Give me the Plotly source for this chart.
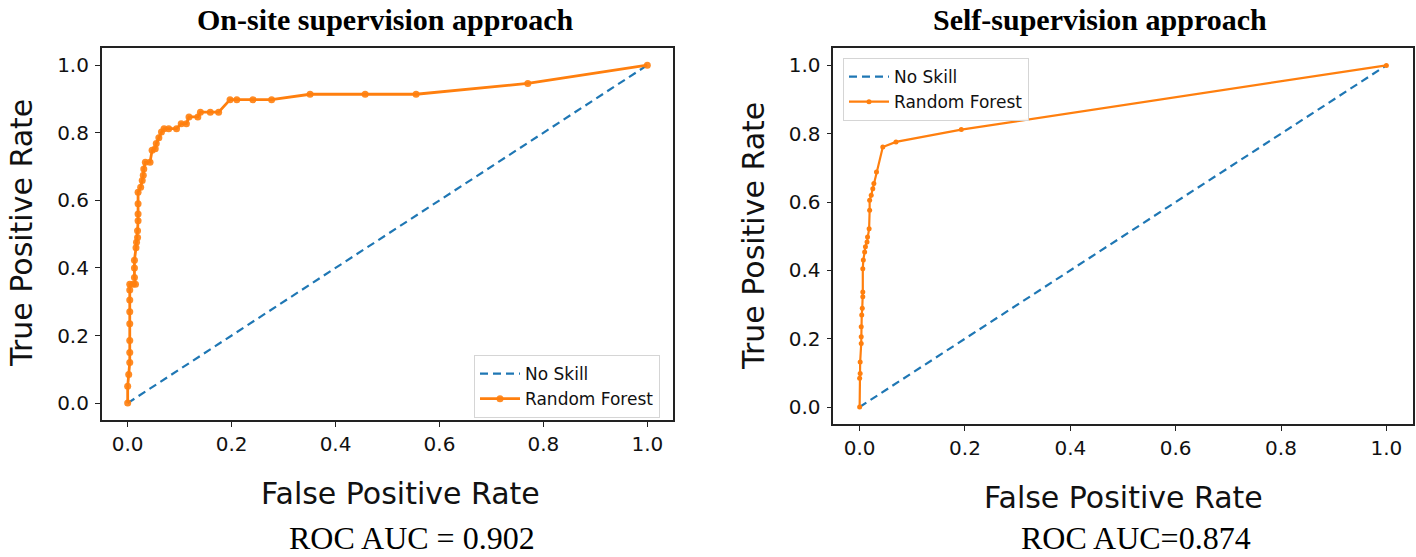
import plotly.graph_objects as go

# ---------------- data ----------------
titles = ["On-site supervision approach", "Self-supervision approach"]
auc_labels = ["ROC AUC = 0.902", "ROC AUC=0.874"]
x_title = "False Positive Rate"
y_title = "True Positive Rate"
tick_vals = [0.0, 0.2, 0.4, 0.6, 0.8, 1.0]
tick_text = ["0.0", "0.2", "0.4", "0.6", "0.8", "1.0"]

noskill_fpr = [0.0, 1.0]
noskill_tpr = [0.0, 1.0]

onsite_fpr = [0.0, 0.0, 0.002, 0.004, 0.004, 0.004, 0.004, 0.004, 0.004, 0.004, 0.004,
              0.010, 0.015, 0.013, 0.013, 0.013, 0.016, 0.017, 0.019, 0.019, 0.020,
              0.020, 0.020, 0.020, 0.025, 0.028, 0.030, 0.031, 0.034, 0.043, 0.047,
              0.053, 0.055, 0.060, 0.065, 0.070, 0.079, 0.094, 0.103, 0.113, 0.118,
              0.135, 0.140, 0.159, 0.175, 0.197, 0.210, 0.241, 0.277, 0.351, 0.457,
              0.555, 0.770, 1.0]
onsite_tpr = [0.0, 0.05, 0.085, 0.12, 0.15, 0.185, 0.235, 0.27, 0.305, 0.335, 0.352,
              0.352, 0.352, 0.372, 0.40, 0.423, 0.46, 0.476, 0.49, 0.51, 0.54,
              0.56, 0.59, 0.624, 0.639, 0.659, 0.674, 0.693, 0.713, 0.713, 0.748,
              0.753, 0.768, 0.785, 0.802, 0.812, 0.812, 0.812, 0.827, 0.827, 0.847,
              0.847, 0.861, 0.861, 0.861, 0.898, 0.898, 0.898, 0.898, 0.914, 0.914,
              0.914, 0.946, 1.0]

self_fpr = [0.0, 0.0, 0.001, 0.001, 0.003, 0.003, 0.003, 0.004, 0.005, 0.006, 0.006,
            0.006, 0.007, 0.0095, 0.011, 0.014, 0.015, 0.018, 0.019, 0.019, 0.022,
            0.025, 0.027, 0.032, 0.044, 0.069, 0.193, 1.0]
self_tpr = [0.0, 0.084, 0.098, 0.132, 0.186, 0.206, 0.235, 0.269, 0.289, 0.323, 0.337,
            0.405, 0.43, 0.454, 0.469, 0.483, 0.498, 0.522, 0.576, 0.605, 0.62,
            0.639, 0.654, 0.688, 0.761, 0.776, 0.812, 1.0]

# ---------------- styling ----------------
W, H = 1416, 557
BLUE = "#1f77b4"
ORANGE = "#ff7f0e"
SANS = "DejaVu Sans"
SERIF = "Liberation Serif"


def px_x(x):
    return x / W


def px_y(y):
    return 1 - y / H


fig = go.Figure()

# left panel
fig.add_trace(go.Scatter(x=noskill_fpr, y=noskill_tpr, mode="lines", name="No Skill",
                         line=dict(color=BLUE, width=2.2, dash="8px,5px"),
                         xaxis="x", yaxis="y", legend="legend"))
fig.add_trace(go.Scatter(x=onsite_fpr, y=onsite_tpr, mode="lines+markers", name="Random Forest",
                         line=dict(color=ORANGE, width=2.8),
                         marker=dict(color=ORANGE, size=7, opacity=0.9),
                         xaxis="x", yaxis="y", legend="legend"))
# right panel
fig.add_trace(go.Scatter(x=noskill_fpr, y=noskill_tpr, mode="lines", name="No Skill",
                         line=dict(color=BLUE, width=2.2, dash="8px,5px"),
                         xaxis="x2", yaxis="y2", legend="legend2"))
fig.add_trace(go.Scatter(x=self_fpr, y=self_tpr, mode="lines+markers", name="Random Forest",
                         line=dict(color=ORANGE, width=2.2),
                         marker=dict(color=ORANGE, size=5),
                         xaxis="x2", yaxis="y2", legend="legend2"))

axis_common = dict(
    range=[-0.05, 1.05], tickvals=tick_vals, ticktext=tick_text,
    showgrid=False, zeroline=False, showline=True, mirror=True,
    linecolor="#222", linewidth=1.5, ticks="outside", ticklen=5, tickwidth=1.3,
    tickcolor="#222", tickfont=dict(family=SANS, size=20, color="#111"),
    automargin=False, fixedrange=True,
)

legend_common = dict(xanchor="left", yanchor="top",
                     bgcolor="rgba(255,255,255,0.9)", bordercolor="#d5d5d5", borderwidth=1,
                     font=dict(family=SANS, size=17, color="#111"), traceorder="normal",
                     itemwidth=40)

fig.update_layout(
    width=W, height=H,
    margin=dict(l=0, r=0, t=0, b=0),
    paper_bgcolor="white", plot_bgcolor="white",
    xaxis=dict(domain=[101.7 / W, 673.3 / W], anchor="y", ticklabelstandoff=0, **axis_common),
    yaxis=dict(domain=[px_y(420), px_y(48.3)], anchor="x", ticklabelstandoff=2, **axis_common),
    xaxis2=dict(domain=[833.3 / W, 1412.7 / W], anchor="y2", ticklabelstandoff=0, **axis_common),
    yaxis2=dict(domain=[px_y(424.1), px_y(48.3)], anchor="x2", ticklabelstandoff=2, **axis_common),
    legend=dict(x=px_x(474), y=px_y(355), **legend_common),
    legend2=dict(x=px_x(843), y=px_y(58), **legend_common),
    showlegend=True,
)

annotations = []
# panel titles
for t, cx in zip(titles, [385, 1100]):
    annotations.append(dict(text="<b>" + t + "</b>", x=px_x(cx), y=px_y(19), xref="paper", yref="paper",
                            xanchor="center", yanchor="middle", showarrow=False,
                            font=dict(family=SERIF, size=30, color="black")))
# axis titles
for cx, cy in [(400, 493), (1123, 497)]:
    annotations.append(dict(text=x_title, x=px_x(cx), y=px_y(cy), xref="paper", yref="paper",
                            xanchor="center", yanchor="middle", showarrow=False,
                            font=dict(family=SANS, size=30, color="#111")))
for cx, cy in [(22, 233), (753, 236)]:
    annotations.append(dict(text=y_title, x=px_x(cx), y=px_y(cy), xref="paper", yref="paper",
                            xanchor="center", yanchor="middle", showarrow=False, textangle=-90,
                            font=dict(family=SANS, size=30, color="#111")))
# AUC labels
for t, cx in zip(auc_labels, [412, 1136]):
    annotations.append(dict(text=t, x=px_x(cx), y=px_y(538), xref="paper", yref="paper",
                            xanchor="center", yanchor="middle", showarrow=False,
                            font=dict(family=SERIF, size=32, color="black")))
fig.update_layout(annotations=annotations)

fig.write_html("out.html", config={"displayModeBar": False},
               post_script="document.body.style.margin='0';")
